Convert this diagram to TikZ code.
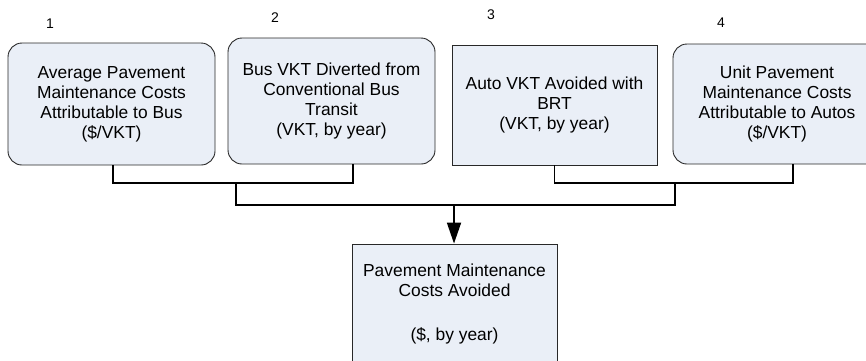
\documentclass[tikz,border=0pt]{standalone}
\usepackage{fontspec}
\setmainfont{Liberation Sans}
\usetikzlibrary{arrows.meta}
\definecolor{boxfill}{RGB}{234,239,247}
\definecolor{boxline}{RGB}{40,40,40}
\begin{document}
\begin{tikzpicture}[x=1pt,y=-1pt,
  inbox/.style={draw=boxline,line width=0.9pt,fill=boxfill,align=center,
    inner sep=0pt,font=\fontsize{17.4}{20}\selectfont},
  roundbox/.style={inbox,rounded corners=14pt},
  num/.style={font=\fontsize{14}{16}\selectfont,inner sep=0pt},
  conn/.style={draw=black,line width=1.8pt},
  arr/.style={conn,-{Triangle[width=14pt,length=21pt]}}]
\useasboundingbox (0,0) rectangle (866,360);
\clip (0,0) rectangle (866,360);

% input boxes
\node[roundbox,minimum width=207pt,minimum height=122pt] (b1) at (111.5,104)
  {Average Pavement\\Maintenance Costs\\Attributable to Bus\\(\$/VKT)};
\node[roundbox,minimum width=207pt,minimum height=126pt] (b2) at (331.5,101)
  {Bus VKT Diverted from\\Conventional Bus\\Transit\\(VKT, by year)};
\node[inbox,minimum width=205pt,minimum height=120pt] (b3) at (554.5,105)
  {Auto VKT Avoided with\\BRT\\(VKT, by year)};
\node[roundbox,minimum width=208pt,minimum height=120pt] (b4) at (777,104)
  {Unit Pavement\\Maintenance Costs\\Attributable to Autos\\(\$/VKT)};

% result box
\node[inbox,minimum width=205pt,minimum height=120pt] (res) at (454.5,304)
  {Pavement Maintenance\\Costs Avoided\\[24pt](\$, by year)};

% step numbers
\node[num] (n1) at (50,24) {1};
\node[num] (n2) at (275,18) {2};
\node[num] (n3) at (491,15) {3};
\node[num] (n4) at (721,23) {4};

% junction points
\coordinate (jl) at (236,183);
\coordinate (jr) at (675,183);
\coordinate (jm) at (454,205);

% connectors
\draw[conn] ([xshift=1.5pt]b1.south) |- (jl) -| ([xshift=21.5pt]b2.south);
\draw[conn] (b3.south) |- (jr) -| ([xshift=16pt]b4.south);
\draw[conn] (jl) |- (jm) -| (jr);
\draw[arr] (jm) -- (jm |- res.north);
\end{tikzpicture}
\end{document}
